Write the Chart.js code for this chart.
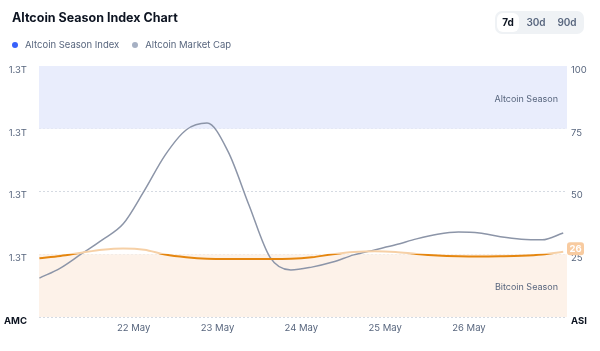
<!DOCTYPE html>
<html>
<head>
<meta charset="utf-8">
<script src="https://cdn.jsdelivr.net/npm/chart.js@4.4.1/dist/chart.umd.min.js"></script>
<style>
  html, body { margin: 0; padding: 0; background: #fff; }
  body { width: 600px; height: 351px; position: relative; overflow: hidden; font-family: Inter, "Noto Sans", sans-serif; }
  .title { position: absolute; left: 12px; top: 10px; font-size: 12.5px; font-weight: 700; color: #0d1421; }
  .legend { position: absolute; left: 12px; top: 39px; font-size: 9.5px; color: #58667e; display: flex; gap: 13px; }
  .legend span { display: inline-flex; align-items: center; }
  .legend i { width: 6px; height: 6px; border-radius: 50%; display: inline-block; margin-right: 7px; }
  .tabs { position: absolute; left: 495px; top: 11px; width: 89px; height: 23px; background: #eff2f5; border-radius: 7px; }
  .tabs b { position: absolute; top: 2px; height: 19px; line-height: 19px; font-size: 10px; font-weight: 600; color: #58667e; text-align: center; }
  .tabs b.on { background: #fff; color: #0d1421; font-weight: 700; border-radius: 6px; }
  #wrap { position: absolute; left: 0; top: 0; width: 600px; height: 351px; }
</style>
</head>
<body>
<div id="wrap"><canvas id="asi-chart"></canvas></div>
<div class="title">Altcoin Season Index Chart</div>
<div class="legend">
  <span><i style="background:#3861fb"></i>Altcoin Season Index</span>
  <span><i style="background:#a6b0c3"></i>Altcoin Market Cap</span>
</div>
<div class="tabs">
  <b class="on" style="left:2px;width:22px">7d</b>
  <b style="left:28px;width:26px">30d</b>
  <b style="left:58px;width:28px">90d</b>
</div>
<script>
  // x = Tage ab 21. Mai 00:00 (6-h-Raster)
  const DAYS = [-0.125, 0.125, 0.375, 0.625, 0.875, 1.125, 1.375, 1.625, 1.875, 2.125, 2.375, 2.625, 2.875,
                3.125, 3.375, 3.625, 3.875, 4.125, 4.375, 4.625, 4.875, 5.125, 5.375, 5.625, 5.875, 6.125];
  // Altcoin Season Index (0–100)
  const ASI = [23.4, 24.3, 25.6, 26.8, 27.3, 26.8, 24.9, 23.8, 23.2, 23.1, 23.1, 23.1, 23.2,
               23.8, 25.0, 25.9, 26.2, 25.9, 25.1, 24.5, 24.2, 24.1, 24.2, 24.4, 24.9, 26.0];
  // Altcoin Market Cap in Billionen USD
  const AMC = [1.2724, 1.2756, 1.2801, 1.2846, 1.2897, 1.3002, 1.3116, 1.3196, 1.3218, 1.3128, 1.2957, 1.2791, 1.2750,
               1.2759, 1.2775, 1.2798, 1.2814, 1.2830, 1.2849, 1.2864, 1.2871, 1.2868, 1.2856, 1.2848, 1.2846, 1.2868];
  const X_TICKS = [1, 2, 3, 4, 5];
  const X_LABELS = ["22 May", "23 May", "24 May", "25 May", "26 May"];
  const BANDS = [
    { from: 75, to: 100, color: "#e9edfc", label: "Altcoin Season", at: 86.9 },
    { from: 0, to: 25, color: "#fdf2e9", label: "Bitcoin Season", at: 12 },
  ];

  const LIGHT = "#f6d0a6", DARK = "#e5860f";

  // Hintergrundbänder + Beschriftung
  const bandPlugin = {
    id: "bands",
    beforeDatasetsDraw(chart) {
      const { ctx, chartArea: a, scales: { yR } } = chart;
      ctx.save();
      BANDS.forEach(b => {
        const y1 = yR.getPixelForValue(b.to), y0 = yR.getPixelForValue(b.from);
        ctx.fillStyle = b.color;
        ctx.fillRect(a.left, y1, a.right - a.left, y0 - y1);
        ctx.fillStyle = "#58667e";
        ctx.font = "9px Inter, sans-serif";
        ctx.textAlign = "right";
        ctx.textBaseline = "middle";
        ctx.fillText(b.label, a.right - 9, yR.getPixelForValue(b.at));
      });
      ctx.restore();
    }
  };

  // Wert-Badge rechts am letzten ASI-Punkt
  const badgePlugin = {
    id: "badge",
    afterDraw(chart) {
      const { ctx, chartArea: a, scales: { yR } } = chart;
      const v = ASI[ASI.length - 1];
      const y = yR.getPixelForValue(v) - 3;
      const x = a.right, w = 17, h = 13;
      ctx.save();
      ctx.fillStyle = "#f8cba0";
      ctx.beginPath();
      ctx.roundRect(x, y - h / 2, w, h, 3);
      ctx.fill();
      ctx.fillStyle = "#fff";
      ctx.font = "bold 9.5px Inter, sans-serif";
      ctx.textAlign = "center";
      ctx.textBaseline = "middle";
      ctx.fillText(Math.round(v), x + w / 2, y + 0.5);
      ctx.restore();
    }
  };

  function asiColor(c) {
    const { chart } = c;
    const a = chart.chartArea;
    if (!a) return DARK;
    const y25 = chart.scales.yR.getPixelForValue(25);
    const s = Math.min(1, Math.max(0, (y25 - a.top) / (a.bottom - a.top)));
    const g = chart.ctx.createLinearGradient(0, a.top, 0, a.bottom);
    g.addColorStop(0, LIGHT);
    g.addColorStop(s, LIGHT);
    g.addColorStop(s, DARK);
    g.addColorStop(1, DARK);
    return g;
  }

  const tickFont = c => c.index === 0
    ? { family: "Inter, sans-serif", size: 9.5, weight: "bold" }
    : { family: "Inter, sans-serif", size: 9.5 };
  const tickColor = c => c.index === 0 ? "#0d1421" : "#58667e";

  new Chart(document.getElementById("asi-chart"), {
    type: "line",
    data: {
      datasets: [
        {
          label: "Altcoin Season Index",
          data: DAYS.map((d, i) => ({ x: d, y: ASI[i] })),
          yAxisID: "yR",
          borderColor: asiColor,
          borderWidth: 2,
          pointRadius: 0,
          cubicInterpolationMode: "monotone",
          order: 1
        },
        {
          label: "Altcoin Market Cap",
          data: DAYS.map((d, i) => ({ x: d, y: AMC[i] })),
          yAxisID: "yL",
          borderColor: "#8c95a8",
          borderWidth: 1.5,
          pointRadius: 0,
          cubicInterpolationMode: "monotone",
          order: 2
        }
      ]
    },
    options: {
      responsive: true, maintainAspectRatio: false, animation: false,
      layout: { padding: { top: 66 } },
      scales: {
        x: {
          type: "linear", min: -0.13, max: 6.17,
          afterBuildTicks: s => { s.ticks = X_TICKS.map(v => ({ value: v })); },
          afterFit: s => { s.height = 34; },
          grid: { display: false, drawTicks: false }, border: { display: false },
          ticks: {
            color: "#58667e", font: { family: "Inter, sans-serif", size: 9.5 }, padding: 5,
            maxRotation: 0, autoSkip: false,
            callback: v => X_LABELS[X_TICKS.indexOf(v)]
          }
        },
        yL: {
          position: "left", min: 1.26, max: 1.34,
          afterBuildTicks: s => { s.ticks = [1.26, 1.28, 1.30, 1.32, 1.34].map(v => ({ value: v })); },
          afterFit: s => { s.width = 39; },
          grid: { display: false }, border: { display: false },
          ticks: {
            padding: 4, labelOffset: 4, font: tickFont, color: tickColor,
            callback: (v, i) => i === 0 ? "AMC" : v.toFixed(1) + "T"
          }
        },
        yR: {
          position: "right", min: 0, max: 100,
          afterBuildTicks: s => { s.ticks = [0, 25, 50, 75, 100].map(v => ({ value: v })); },
          afterFit: s => { s.width = 33; },
          border: { display: false, dash: [2, 2] },
          grid: { color: "#d5dae2", lineWidth: 1, drawTicks: false },
          ticks: {
            padding: 4, labelOffset: 4, font: tickFont, color: tickColor,
            callback: (v, i) => i === 0 ? "ASI" : v
          }
        }
      },
      plugins: { legend: { display: false }, tooltip: { enabled: false } }
    },
    plugins: [bandPlugin, badgePlugin]
  });
</script>
</body>
</html>
